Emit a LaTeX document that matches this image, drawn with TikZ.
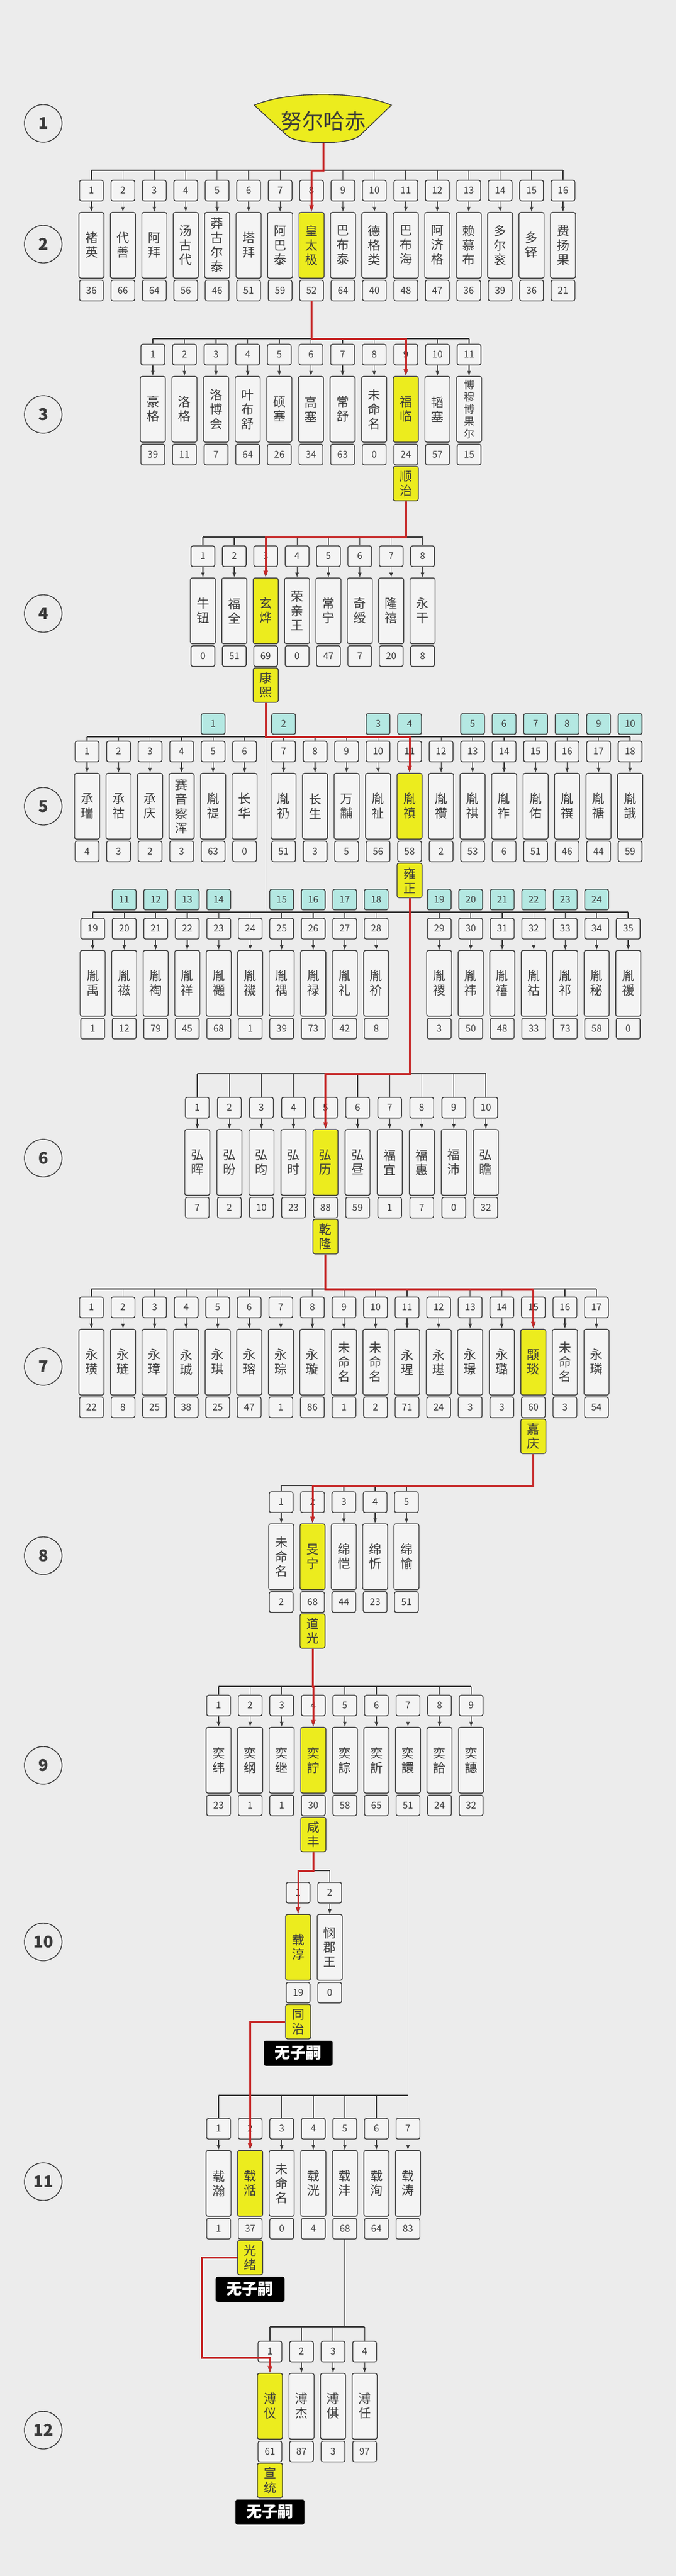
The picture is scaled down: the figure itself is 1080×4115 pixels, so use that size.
\documentclass[tikz,border=0pt]{standalone}
\usepackage{fontspec}
\setmainfont{Noto Sans CJK SC}
\XeTeXlinebreaklocale "zh"
\XeTeXlinebreakskip=0pt plus 1pt
\usetikzlibrary{arrows.meta,positioning}
\definecolor{bgcol}{HTML}{ECECEC}
\definecolor{boxcol}{HTML}{F4F4F4}
\definecolor{edgecol}{HTML}{3A3A3A}
\definecolor{hlcol}{HTML}{ECEC1E}
\definecolor{tealcol}{HTML}{B4E8E2}
\definecolor{redcol}{HTML}{C62828}

\begin{document}
\begin{tikzpicture}[x=1pt,y=-1pt,
  tree/.style={draw=edgecol,line width=1.3pt},
  childarrow/.style={-{Latex[length=8pt,width=6pt]}},
  heir/.style={draw=redcol,line width=3pt,-{Latex[length=11pt,width=8pt]}},
  cell/.style={draw=edgecol,fill=boxcol,line width=1.3pt,rounded corners=3pt,inner sep=0pt,text=edgecol},
  numbox/.style={cell,minimum width=38pt,minimum height=33pt,font=\fontsize{15}{18}\selectfont},
  namebox/.style={cell,minimum width=40pt,minimum height=105pt,text width=21pt,align=center,font=\fontsize{20}{23}\selectfont},
  agebox/.style={numbox},
  reignbox/.style={namebox,fill=hlcol,minimum height=55pt},
  tealbox/.style={numbox,fill=tealcol},
  kin/.style={},
  emperor/.style={fill=hlcol},
  longname/.style={text width=17pt,font=\fontsize{17}{19.5}\selectfont},
  nochild/.style={fill=black,text=white,rounded corners=3pt,minimum width=110pt,minimum height=40pt,inner sep=0pt,font=\fontsize{25}{28}\selectfont\bfseries},
  gencircle/.style={circle,draw=edgecol,line width=1.3pt,minimum size=60pt,inner sep=0pt,text=edgecol,font=\fontsize{26}{28}\selectfont\bfseries}]

\fill[bgcol] (0,0) rectangle (1080,4115);
\useasboundingbox (0,0) rectangle (1080,4115);

% generation numbers
\foreach \g/\y in {1/197,2/390,3/662,4/980,5/1288,6/1850,7/2183,8/2485,9/2820,10/3102,11/3485,12/3882}
  \node[gencircle] (c\g) at (69,\y) {\g};

% generation 1
\draw[draw=edgecol,fill=hlcol,line width=1.3pt] (406,168) .. controls (460,145) and (572,145) .. (625,168)
  -- (573,218) .. controls (554,231) and (479,231) .. (460,218) -- cycle;
\node[text=edgecol,font=\fontsize{34}{40}\selectfont] (root) at (516,194) {努尔哈赤};
\coordinate (rootfoot) at (516,228);

% generation 2
\coordinate (b2) at (0,272);
\foreach \i/\nm/\ag/\st in {1/褚英/36/kin,2/代善/66/kin,3/阿拜/64/kin,4/汤古代/56/kin,5/莽古尔泰/46/kin,6/塔拜/51/kin,
  7/阿巴泰/59/kin,8/皇太极/52/emperor,9/巴布泰/64/kin,10/德格类/40/kin,11/巴布海/48/kin,12/阿济格/47/kin,
  13/赖慕布/36/kin,14/多尔衮/39/kin,15/多铎/36/kin,16/费扬果/21/kin}{
  \pgfmathsetmacro\x{146+50.2*(\i-1)}
  \node[numbox] (g2n\i) at (\x,304.5) {\i};
  \node[namebox,\st,below=17pt of g2n\i] (g2p\i) {\nm};
  \node[agebox,below=2pt of g2p\i] (g2a\i) {\ag};
  \draw[tree] (g2n\i.north |- b2) -- (g2n\i.north);
  \draw[tree,childarrow] (g2n\i) -- (g2p\i);
}
\draw[tree] (g2n1.north |- b2) -- (g2n16.north |- b2);
\draw[tree] (rootfoot) -- (rootfoot |- b2);

% generation 3
\coordinate (b3) at (0,541);
\foreach \i/\nm/\ag/\st in {1/豪格/39/kin,2/洛格/11/kin,3/洛博会/7/kin,4/叶布舒/64/kin,5/硕塞/26/kin,6/高塞/34/kin,
  7/常舒/63/kin,8/未命名/0/kin,9/福临/24/emperor,10/韬塞/57/kin,11/博穆博果尔/15/longname}{
  \pgfmathsetmacro\x{244+50.5*(\i-1)}
  \node[numbox] (g3n\i) at (\x,566.5) {\i};
  \node[namebox,\st,below=17pt of g3n\i] (g3p\i) {\nm};
  \node[agebox,below=2pt of g3p\i] (g3a\i) {\ag};
  \draw[tree] (g3n\i.north |- b3) -- (g3n\i.north);
  \draw[tree,childarrow] (g3n\i) -- (g3p\i);
}
\draw[tree] (g3n1.north |- b3) -- (g3n11.north |- b3);
\draw[tree] (g2a8.south) -- (g2a8.south |- b3);
\node[reignbox,below=1pt of g3a9] (r3) {顺治};

% generation 4
\coordinate (b4) at (0,858);
\foreach \i/\nm/\ag/\st in {1/牛钮/0/kin,2/福全/51/kin,3/玄烨/69/emperor,4/荣亲王/0/kin,5/常宁/47/kin,
  6/奇绶/7/kin,7/隆禧/20/kin,8/永干/8/kin}{
  \pgfmathsetmacro\x{324+50.1*(\i-1)}
  \node[numbox] (g4n\i) at (\x,888.5) {\i};
  \node[namebox,\st,below=17pt of g4n\i] (g4p\i) {\nm};
  \node[agebox,below=2pt of g4p\i] (g4a\i) {\ag};
  \draw[tree] (g4n\i.north |- b4) -- (g4n\i.north);
  \draw[tree,childarrow] (g4n\i) -- (g4p\i);
}
\draw[tree] (g4n1.north |- b4) -- (g4n8.north |- b4);
\draw[tree] (r3.south) -- (r3.south |- b4);
\node[reignbox,below=1pt of g4a3] (r4) {康熙};

% generation 5
\coordinate (b5) at (0,1177);
\coordinate (b5l) at (0,1457);
\foreach \i/\nm/\ag/\st in {1/承瑞/4/kin,2/承祜/3/kin,3/承庆/2/kin,4/赛音察浑/3/kin,5/胤禔/63/kin,6/长华/0/kin,
  7/胤礽/51/kin,8/长生/3/kin,9/万黼/5/kin,10/胤祉/56/kin,11/胤禛/58/emperor,12/胤禶/2/kin,
  13/胤祺/53/kin,14/胤祚/6/kin,15/胤佑/51/kin,16/胤禩/46/kin,17/胤禟/44/kin,18/胤誐/59/kin}{
  \pgfmathsetmacro\x{139+50.3*(\i-1)+12*(\i>6)}
  \node[numbox] (g5n\i) at (\x,1200.5) {\i};
  \node[namebox,\st,below=17pt of g5n\i] (g5p\i) {\nm};
  \node[agebox,below=2pt of g5p\i] (g5a\i) {\ag};
  \draw[tree] (g5n\i.north |- b5) -- (g5n\i.north);
  \draw[tree,childarrow] (g5n\i) -- (g5p\i);
}
\foreach \i/\nm/\ag/\st in {19/胤禹/1/kin,20/胤禌/12/kin,21/胤祹/79/kin,22/胤祥/45/kin,23/胤禵/68/kin,24/胤禨/1/kin,
  25/胤禑/39/kin,26/胤禄/73/kin,27/胤礼/42/kin,28/胤祄/8/kin,29/胤禝/3/kin,30/胤祎/50/kin,
  31/胤禧/48/kin,32/胤祜/33/kin,33/胤祁/73/kin,34/胤秘/58/kin,35/胤禐/0/kin}{
  \pgfmathsetmacro\x{148+50.3*(\i-19)+50.3*(\i>28)}
  \node[numbox] (g5n\i) at (\x,1483.5) {\i};
  \node[namebox,\st,below=17pt of g5n\i] (g5p\i) {\nm};
  \node[agebox,below=2pt of g5p\i] (g5a\i) {\ag};
  \draw[tree] (g5n\i.north |- b5l) -- (g5n\i.north);
  \draw[tree,childarrow] (g5n\i) -- (g5p\i);
}
\draw[tree] (g5n1.north |- b5) -- (g5n18.north |- b5);
\draw[tree] (g5n19.north |- b5l) -- (g5n35.north |- b5l);
\draw[tree] (r4.south) -- (r4.south |- b5l);
\coordinate (tu) at (0,1156.5);
\coordinate (tl) at (0,1437);
\foreach \k/\c in {1/5,2/7,3/10,4/11,5/13,6/14,7/15,8/16,9/17,10/18}
  \node[tealbox] (t\k) at (g5n\c |- tu) {\k};
\foreach \k/\c in {11/20,12/21,13/22,14/23,15/25,16/26,17/27,18/28,19/29,20/30,21/31,22/32,23/33,24/34}
  \node[tealbox] (t\k) at (g5n\c |- tl) {\k};
\node[reignbox,below=1pt of g5a11] (r5) {雍正};

% generation 6
\coordinate (b6) at (0,1715);
\foreach \i/\nm/\ag/\st in {1/弘晖/7/kin,2/弘昐/2/kin,3/弘昀/10/kin,4/弘时/23/kin,5/弘历/88/emperor,
  6/弘昼/59/kin,7/福宜/1/kin,8/福惠/7/kin,9/福沛/0/kin,10/弘瞻/32/kin}{
  \pgfmathsetmacro\x{315+51.2*(\i-1)}
  \node[numbox] (g6n\i) at (\x,1769.5) {\i};
  \node[namebox,\st,below=17pt of g6n\i] (g6p\i) {\nm};
  \node[agebox,below=2pt of g6p\i] (g6a\i) {\ag};
  \draw[tree] (g6n\i.north |- b6) -- (g6n\i.north);
  \draw[tree,childarrow] (g6n\i) -- (g6p\i);
}
\draw[tree] (g6n1.north |- b6) -- (g6n10.north |- b6);
\draw[tree] (r5.south) -- (r5.south |- b6);
\node[reignbox,below=1pt of g6a5] (r6) {乾隆};

% generation 7
\coordinate (b7) at (0,2059);
\foreach \i/\nm/\ag/\st in {1/永璜/22/kin,2/永琏/8/kin,3/永璋/25/kin,4/永珹/38/kin,5/永琪/25/kin,6/永瑢/47/kin,
  7/永琮/1/kin,8/永璇/86/kin,9/未命名/1/kin,10/未命名/2/kin,11/永瑆/71/kin,12/永璂/24/kin,
  13/永璟/3/kin,14/永璐/3/kin,15/颙琰/60/emperor,16/未命名/3/kin,17/永璘/54/kin}{
  \pgfmathsetmacro\x{146+50.4*(\i-1)}
  \node[numbox] (g7n\i) at (\x,2088.5) {\i};
  \node[namebox,\st,below=17pt of g7n\i] (g7p\i) {\nm};
  \node[agebox,below=2pt of g7p\i] (g7a\i) {\ag};
  \draw[tree] (g7n\i.north |- b7) -- (g7n\i.north);
  \draw[tree,childarrow] (g7n\i) -- (g7p\i);
}
\draw[tree] (g7n1.north |- b7) -- (g7n17.north |- b7);
\draw[tree] (r6.south) -- (r6.south |- b7);
\node[reignbox,below=1pt of g7a15] (r7) {嘉庆};

% generation 8
\coordinate (b8) at (0,2373);
\foreach \i/\nm/\ag/\st in {1/未命名/2/kin,2/旻宁/68/emperor,3/绵恺/44/kin,4/绵忻/23/kin,5/绵愉/51/kin}{
  \pgfmathsetmacro\x{449+50*(\i-1)}
  \node[numbox] (g8n\i) at (\x,2399.5) {\i};
  \node[namebox,\st,below=17pt of g8n\i] (g8p\i) {\nm};
  \node[agebox,below=2pt of g8p\i] (g8a\i) {\ag};
  \draw[tree] (g8n\i.north |- b8) -- (g8n\i.north);
  \draw[tree,childarrow] (g8n\i) -- (g8p\i);
}
\draw[tree] (g8n1.north |- b8) -- (r7.south |- b8);
\draw[tree] (r7.south) -- (r7.south |- b8);
\node[reignbox,below=1pt of g8a2] (r8) {道光};

% generation 9
\coordinate (b9) at (0,2694);
\foreach \i/\nm/\ag/\st in {1/奕纬/23/kin,2/奕纲/1/kin,3/奕继/1/kin,4/奕詝/30/emperor,5/奕誴/58/kin,
  6/奕訢/65/kin,7/奕譞/51/kin,8/奕詥/24/kin,9/奕譓/32/kin}{
  \pgfmathsetmacro\x{349+50.4*(\i-1)}
  \node[numbox] (g9n\i) at (\x,2724.5) {\i};
  \node[namebox,\st,below=17pt of g9n\i] (g9p\i) {\nm};
  \node[agebox,below=2pt of g9p\i] (g9a\i) {\ag};
  \draw[tree] (g9n\i.north |- b9) -- (g9n\i.north);
  \draw[tree,childarrow] (g9n\i) -- (g9p\i);
}
\draw[tree] (g9n1.north |- b9) -- (g9n9.north |- b9);
\draw[tree] (r8.south) -- (r8.south |- b9);
\node[reignbox,below=1pt of g9a4] (r9) {咸丰};

% generation 10
\coordinate (b10) at (0,2988);
\foreach \i/\nm/\ag/\st in {1/载淳/19/emperor,2/悯郡王/0/kin}{
  \pgfmathsetmacro\x{476+50.5*(\i-1)}
  \node[numbox] (g10n\i) at (\x,3023.5) {\i};
  \node[namebox,\st,below=17pt of g10n\i] (g10p\i) {\nm};
  \node[agebox,below=2pt of g10p\i] (g10a\i) {\ag};
  \draw[tree] (g10n\i.north |- b10) -- (g10n\i.north);
  \draw[tree,childarrow] (g10n\i) -- (g10p\i);
}
\draw[tree] (g10n1.north |- b10) -- (g10n2.north |- b10);
\draw[tree] (r9.south) -- (r9.south |- b10);
\node[reignbox,below=1pt of g10a1] (r10) {同治};
\node[nochild,below=2pt of r10] (nc10) {无子嗣};

% generation 11
\coordinate (b11) at (0,3347);
\foreach \i/\nm/\ag/\st in {1/载瀚/1/kin,2/载湉/37/emperor,3/未命名/0/kin,4/载洸/4/kin,5/载沣/68/kin,
  6/载洵/64/kin,7/载涛/83/kin}{
  \pgfmathsetmacro\x{349+50.4*(\i-1)}
  \node[numbox] (g11n\i) at (\x,3400.5) {\i};
  \node[namebox,\st,below=17pt of g11n\i] (g11p\i) {\nm};
  \node[agebox,below=2pt of g11p\i] (g11a\i) {\ag};
  \draw[tree] (g11n\i.north |- b11) -- (g11n\i.north);
  \draw[tree,childarrow] (g11n\i) -- (g11p\i);
}
\draw[tree] (g11n1.north |- b11) -- (g11n7.north |- b11);
\draw[tree] (g9a7.south) -- (g9a7.south |- b11);
\node[reignbox,below=1pt of g11a2] (r11) {光绪};
\node[nochild,below=2pt of r11] (nc11) {无子嗣};

% generation 12
\coordinate (b12) at (0,3717);
\foreach \i/\nm/\ag/\st in {1/溥仪/61/emperor,2/溥杰/87/kin,3/溥倛/3/kin,4/溥任/97/kin}{
  \pgfmathsetmacro\x{431+50.4*(\i-1)}
  \node[numbox] (g12n\i) at (\x,3756.5) {\i};
  \node[namebox,\st,below=17pt of g12n\i] (g12p\i) {\nm};
  \node[agebox,below=2pt of g12p\i] (g12a\i) {\ag};
  \draw[tree] (g12n\i.north |- b12) -- (g12n\i.north);
  \draw[tree,childarrow] (g12n\i) -- (g12p\i);
}
\draw[tree] (g12n1.north |- b12) -- (g12n4.north |- b12);
\draw[tree] (g11a5.south) -- (g11a5.south |- b12);
\node[reignbox,below=1pt of g12a1] (r12) {宣统};
\node[nochild,below=2pt of r12] (nc12) {无子嗣};

% line of succession
\coordinate (turn12) at (322,3766);
\draw[heir] (rootfoot) -- (rootfoot |- b2) -| (g2p8.north);
\draw[heir] (g2a8.south) -- (g2a8.south |- b3) -| (g3p9.north);
\draw[heir] (r3.south) -- (r3.south |- b4) -| (g4p3.north);
\draw[heir] (r4.south) -- (r4.south |- b5) -| (g5p11.north);
\draw[heir] (r5.south) -- (r5.south |- b6) -| (g6p5.north);
\draw[heir] (r6.south) -- (r6.south |- b7) -| (g7p15.north);
\draw[heir] (r7.south) -- (r7.south |- b8) -| (g8p2.north);
\draw[heir] (r8.south) -- (r8.south |- b9) -| (g9p4.north);
\draw[heir] (r9.south) -- (r9.south |- b10) -| (g10p1.north);
\draw[heir] (r10.west) -| (g11p2.north);
\draw[heir] (r11.west) -| (turn12) -| (g12p1.north);
\end{tikzpicture}
\end{document}
